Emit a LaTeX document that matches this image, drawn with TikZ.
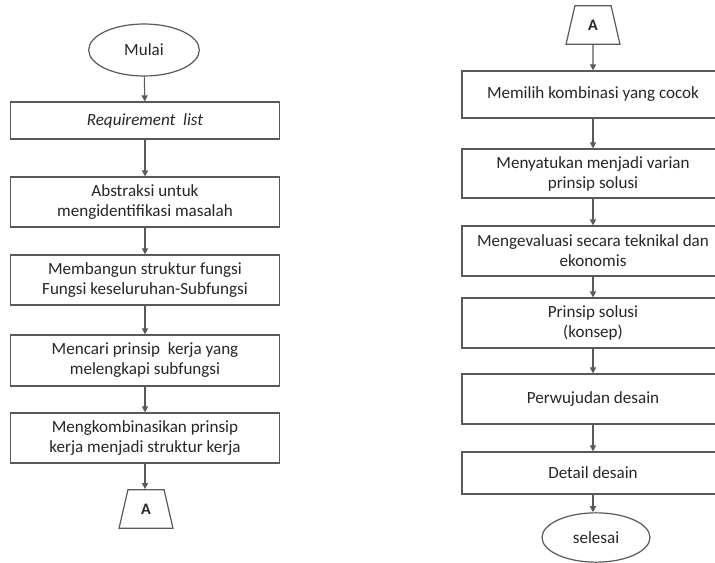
\documentclass[tikz,border=0pt]{standalone}
\usepackage{fontspec}
\setmainfont{Carlito}
\usetikzlibrary{shapes.geometric,arrows.meta}
\begin{document}
\begin{tikzpicture}[x=0.75pt,y=-0.75pt,
    every node/.style={font=\fontsize{12.8}{15}\selectfont, text=black!85},
    proc/.style={draw=black!65, line width=0.9pt, rectangle, align=center, inner sep=2pt},
    lbox/.style={proc, minimum width=201.75pt},
    rbox/.style={proc, minimum width=196.5pt},
    term/.style={draw=black!65, line width=0.9pt, ellipse, inner sep=0pt},
    conn/.style={draw=black!65, line width=0.9pt, trapezium, trapezium left angle=77,
        trapezium right angle=77, minimum width=40.5pt, minimum height=27pt,
        inner sep=0pt, font=\fontsize{12}{13}\selectfont\bfseries},
    flow/.style={draw=black!65, line width=0.8pt, -{Triangle[width=4.5pt,length=4.5pt]}}]
        \useasboundingbox (0,0) rectangle (715,563);
        \clip (0,0) rectangle (715,563);

        %left column
        \node[term, minimum width=83pt, minimum height=39pt] (mulai) at (144,50) {Mulai};
        \node[lbox, minimum height=27.75pt] (req) at (145,120.5) {\itshape Requirement\ \ list};
        \node[lbox, minimum height=37.5pt] (abs) at (145,202) {Abstraksi untuk\\mengidentifikasi masalah};
        \node[lbox, minimum height=37.5pt] (bang) at (145,280) {Membangun struktur fungsi\\Fungsi keseluruhan-Subfungsi};
        \node[lbox, minimum height=38.25pt] (cari) at (145,360.5) {Mencari prinsip\ \ kerja yang\\melengkapi subfungsi};
        \node[lbox, minimum height=37.5pt] (komb) at (145,438) {Mengkombinasikan prinsip\\kerja menjadi struktur kerja};
        \node[conn] (a1) at (146,509) {A};

        %right column
        \node[conn] (a2) at (593,25) {A};
        \node[rbox, minimum height=35.25pt] (pilih) at (593,94.5) {Memilih kombinasi yang cocok};
        \node[rbox, minimum height=36.75pt] (satu) at (593,173.5) {Menyatukan menjadi varian\\prinsip solusi};
        \node[rbox, minimum height=37.5pt] (eval) at (593,251) {Mengevaluasi secara teknikal dan\\ekonomis};
        \node[rbox, minimum height=37.5pt] (prin) at (593,323) {Prinsip solusi\\(konsep)};
        \node[rbox, minimum height=37.5pt] (wujud) at (593,399) {Perwujudan desain};
        \node[rbox, minimum height=31.5pt] (detail) at (593,473) {Detail desain};
        \node[term, minimum width=81pt, minimum height=37pt] (selesai) at (596,537.5) {selesai};

        %arrows
        \draw[flow] (mulai) -- (req);
        \draw[flow] (req) -- (abs);
        \draw[flow] (abs) -- (bang);
        \draw[flow] (bang) -- (cari);
        \draw[flow] (cari) -- (komb);
        \draw[flow] (komb.south) -- (komb.south |- a1.north);
        \draw[flow] (a2) -- (pilih);
        \draw[flow] (pilih) -- (satu);
        \draw[flow] (satu) -- (eval);
        \draw[flow] (eval) -- (prin);
        \draw[flow] (prin) -- (wujud);
        \draw[flow] (wujud) -- (detail);
        \draw[flow] (detail.south) -- (detail.south |- selesai.north);
\end{tikzpicture}
\end{document}
